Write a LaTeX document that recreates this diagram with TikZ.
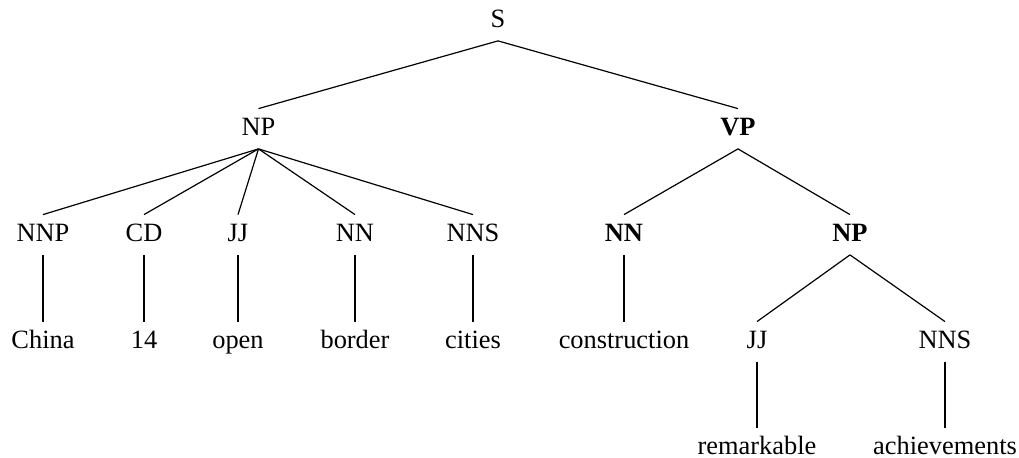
\documentclass[tikz,border=0pt]{standalone}
\usepackage{fontspec}
\setmainfont{Liberation Serif}
\begin{document}
\begin{tikzpicture}[x=0.5pt,y=-0.5pt,
  lab/.style={anchor=base,inner sep=0pt,text height=13.5pt,text depth=6.25pt,font=\fontsize{13.2}{15}\selectfont},
  hd/.style={lab,font=\fontsize{13.2}{15}\selectfont\bfseries},
  edge/.style={draw=black,line width=0.6pt}]
\useasboundingbox (0,0) rectangle (1019,458);
% row 1
\node[lab] (S) at (498,28) {S};
% row 2
\node[lab] (NP1) at (258.5,136) {NP};
\node[hd] (VP) at (738,136) {VP};
% row 3
\node[lab] (NNP) at (43,242) {NNP};
\node[lab] (CD) at (144,242) {CD};
\node[lab] (JJ1) at (238,242) {JJ};
\node[lab] (NN1) at (355,242) {NN};
\node[lab] (NNS1) at (473,242) {NNS};
\node[hd] (NN2) at (624,242) {NN};
\node[hd] (NP2) at (850,242) {NP};
% row 4
\node[lab] (w1) at (43,349) {China};
\node[lab] (w2) at (144,349) {14};
\node[lab] (w3) at (238,349) {open};
\node[lab] (w4) at (355,349) {border};
\node[lab] (w5) at (473,349) {cities};
\node[lab] (w6) at (624,349) {construction};
\node[lab] (JJ2) at (757,349) {JJ};
\node[lab] (NNS2) at (945,349) {NNS};
% row 5
\node[lab] (w7) at (757,455) {remarkable};
\node[lab] (w8) at (945,455) {achievements};
% edges
\foreach \a/\b in {S/NP1,S/VP,NP1/NNP,NP1/CD,NP1/JJ1,NP1/NN1,NP1/NNS1,VP/NN2,VP/NP2,
  NNP/w1,CD/w2,JJ1/w3,NN1/w4,NNS1/w5,NN2/w6,NP2/JJ2,NP2/NNS2,JJ2/w7,NNS2/w8}
  \draw[edge] (\a.south) -- (\b.north);
\end{tikzpicture}
\end{document}
